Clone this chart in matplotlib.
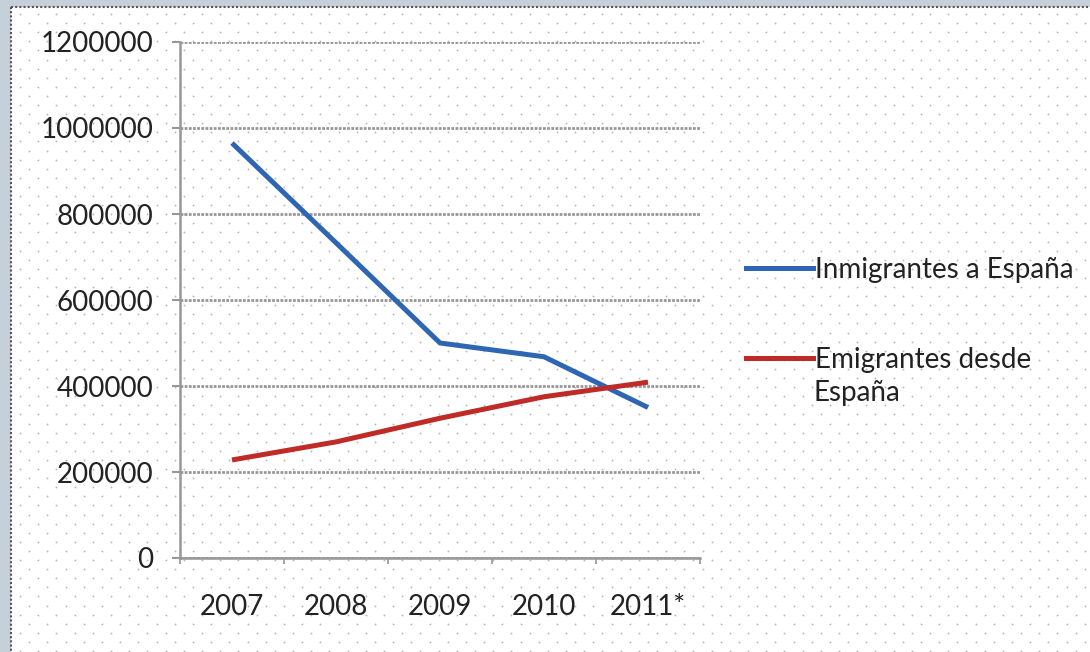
import numpy as np
import matplotlib.pyplot as plt
from matplotlib.patches import Rectangle
from matplotlib.lines import Line2D

years = ['2007', '2008', '2009', '2010', '2011*']
inmigrantes = [965000, 733000, 500000, 468000, 350000]
emigrantes = [228000, 270000, 325000, 375000, 409000]
yticks = [0, 200000, 400000, 600000, 800000, 1000000, 1200000]

W, H = 1090, 652
fig = plt.figure(figsize=(W / 100, H / 100), dpi=100, facecolor='#c6d0d9')
plt.rcParams['font.family'] = ['Lato', 'DejaVu Sans']

# white panel with dotted border (left and top visible)
bg = fig.add_axes([0, 0, 1, 1], zorder=-10)
bg.set_xlim(0, W)
bg.set_ylim(H, 0)
bg.axis('off')
bg.add_patch(Rectangle((11, 7), W, H, facecolor='white', edgecolor='none'))
bg.plot([11, 11], [7, H], color='#555555', lw=1.5, ls=(0, (1, 1)))
bg.plot([11, W], [7, 7], color='#555555', lw=1.5, ls=(0, (1, 1)))
# dot pattern
dx = np.arange(20, W, 18.2)
dy = np.arange(14, H, 9.1)
px, py = [], []
for k, y in enumerate(dy):
    off = 0 if k % 2 == 0 else 9.1
    px.extend(dx + off)
    py.extend([y] * len(dx))
bg.scatter(px, py, s=1.8, color='#b8b8b8', lw=0)

ax = fig.add_axes([180 / W, 1 - 558 / H, 520 / W, 516 / H])
ax.patch.set_alpha(0)
x = np.arange(len(years))
ax.plot(x, inmigrantes, color='#2f66b4', lw=3.6, solid_capstyle='butt', zorder=3)
ax.plot(x, emigrantes, color='#bf2b27', lw=3.6, solid_capstyle='butt', zorder=3)

ax.set_xlim(-0.5, len(years) - 0.5)
ax.set_ylim(0, 1200000)
ax.set_yticks(yticks)
ax.set_yticklabels([str(v) for v in yticks])
ax.set_xticks(x)
ax.set_xticklabels(years)
ax.set_xticks(np.arange(-0.5, len(years)), minor=True)
ax.yaxis.grid(True, color='#979797', lw=2.0, ls=(0, (1.0, 0.5)))
ax.set_axisbelow(True)
for s in ['top', 'right']:
    ax.spines[s].set_visible(False)
for s in ['left', 'bottom']:
    ax.spines[s].set_color('#979797')
    ax.spines[s].set_linewidth(1.8)
ax.tick_params(axis='y', length=6, width=1.5, color='#979797', pad=13,
               labelsize=20, labelcolor='#222222')
ax.tick_params(axis='x', which='major', length=0, pad=26,
               labelsize=20, labelcolor='#222222')
ax.tick_params(axis='x', which='minor', length=4, width=1.2, color='#979797')

handles = [Line2D([], [], color='#2f66b4', lw=3.6),
           Line2D([], [], color='#bf2b27', lw=3.6)]
labels = ['Inmigrantes a España', 'Emigrantes desde']
fig.legend(handles, labels, loc='upper left', bbox_to_anchor=(721 / W, 1 - 232 / H),
           frameon=False, fontsize=20, handlelength=2.4, handletextpad=0.1,
           labelspacing=2.3, labelcolor='#222222')
fig.text(813 / W, 1 - 393 / H, 'España', fontsize=20, color='#222222',
         ha='left', va='center')

fig.savefig('out.png', dpi=100, facecolor=fig.get_facecolor())
